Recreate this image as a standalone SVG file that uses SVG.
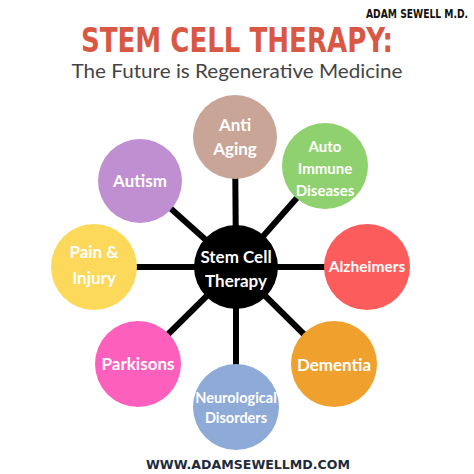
<svg xmlns="http://www.w3.org/2000/svg" width="474" height="474" viewBox="0 0 474 474">
<style>
.n{font-family:Lato,"Open Sans","Liberation Sans",sans-serif;font-weight:bold;fill:#fff;text-anchor:middle}
.c line{stroke:#000;stroke-width:6}
</style>
<rect width="474" height="474" fill="#fff"/>
<text x="468" y="18" text-anchor="end" font-family="'DejaVu Sans Condensed','DejaVu Sans',sans-serif" font-weight="bold" font-size="12.5" fill="#111" textLength="102" lengthAdjust="spacingAndGlyphs">ADAM SEWELL M.D.</text>
<text x="237" y="52" text-anchor="middle" font-family="'DejaVu Sans Condensed','DejaVu Sans',sans-serif" font-weight="bold" font-size="33" fill="#d95843" textLength="312" lengthAdjust="spacingAndGlyphs">STEM CELL THERAPY:</text>
<text x="237" y="78" text-anchor="middle" font-family="Lato,'Open Sans',sans-serif" font-size="20" fill="#444" textLength="331" lengthAdjust="spacingAndGlyphs">The Future is Regenerative Medicine</text>
<g class="c">
<line x1="236" y1="267" x2="235" y2="137"/>
<line x1="236" y1="267" x2="325" y2="166"/>
<line x1="236" y1="267" x2="367" y2="267"/>
<line x1="236" y1="267" x2="334" y2="364"/>
<line x1="236" y1="267" x2="236" y2="407"/>
<line x1="236" y1="267" x2="138" y2="364"/>
<line x1="236" y1="267" x2="94" y2="267"/>
<line x1="236" y1="267" x2="140" y2="181"/>
</g>
<g id="center"><circle cx="236" cy="267" r="42" fill="#000"/><text class="n" x="236" y="263" font-size="17">Stem Cell</text><text class="n" x="236" y="287" font-size="17">Therapy</text></g>
<g id="anti-aging"><circle cx="235" cy="137" r="42" fill="#c8a597"/><text class="n" x="235" y="131" font-size="17">Anti</text><text class="n" x="235" y="155" font-size="17">Aging</text></g>
<g id="auto-immune"><circle cx="325" cy="166" r="43" fill="#8fd16e"/><text class="n" x="325" y="152" font-size="15">Auto</text><text class="n" x="325" y="174" font-size="15">Immune</text><text class="n" x="325" y="196" font-size="15">Diseases</text></g>
<g id="alzheimers"><circle cx="367" cy="267" r="43" fill="#fd5c5c"/><text class="n" x="367" y="272" font-size="15.5">Alzheimers</text></g>
<g id="dementia"><circle cx="334" cy="364" r="43" fill="#f0a02c"/><text class="n" x="334" y="371" font-size="17">Dementia</text></g>
<g id="neurological"><circle cx="236" cy="407" r="43" fill="#8eaad6"/><text class="n" x="236" y="403" font-size="14.5">Neurological</text><text class="n" x="236" y="423" font-size="14.5">Disorders</text></g>
<g id="parkisons"><circle cx="138" cy="364" r="43" fill="#fd5fbd"/><text class="n" x="138" y="370" font-size="17">Parkisons</text></g>
<g id="pain-injury"><circle cx="94" cy="267" r="43" fill="#fcd95a"/><text class="n" x="94" y="258" font-size="17">Pain &amp;</text><text class="n" x="94" y="284" font-size="17">Injury</text></g>
<g id="autism"><circle cx="140" cy="181" r="42" fill="#bf8fd1"/><text class="n" x="140" y="187" font-size="17">Autism</text></g>
<text x="248" y="469" text-anchor="middle" font-family="'DejaVu Sans',sans-serif" font-weight="bold" font-size="12" fill="#1e2b3a" textLength="204" lengthAdjust="spacingAndGlyphs">WWW.ADAMSEWELLMD.COM</text>
</svg>
